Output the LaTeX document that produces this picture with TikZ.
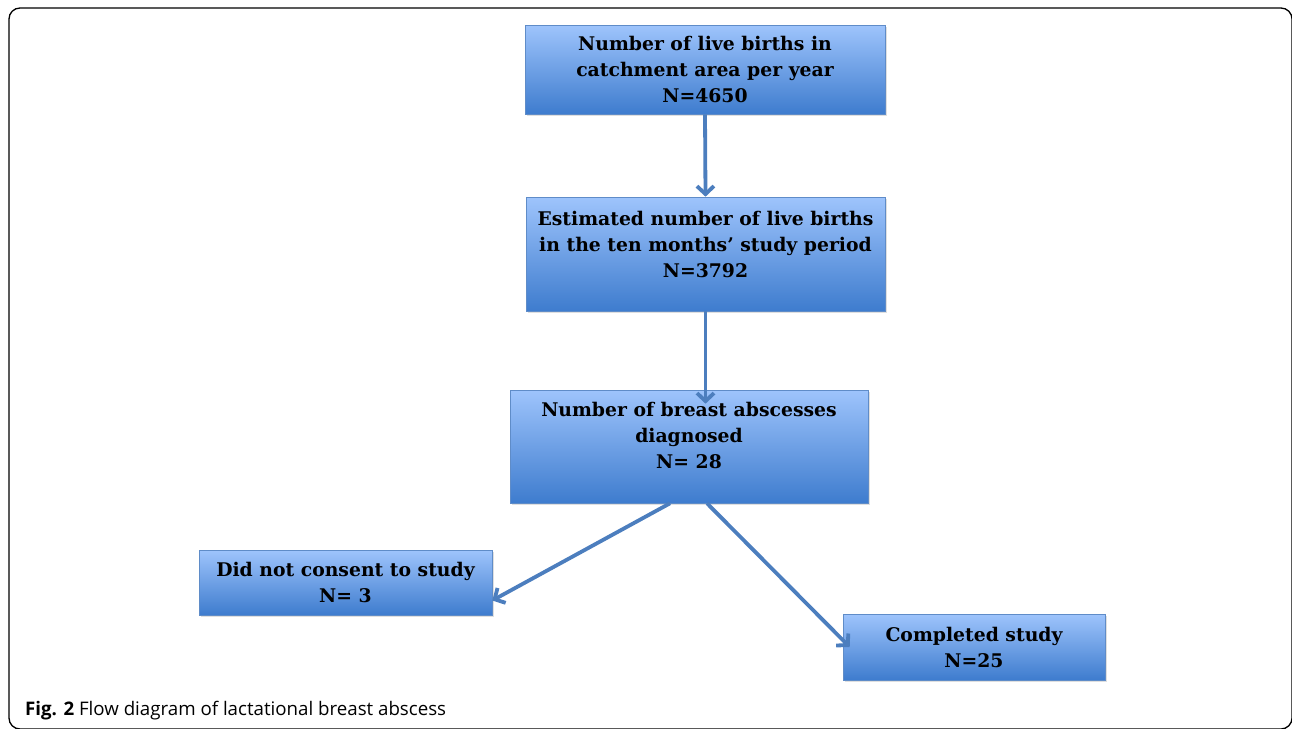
\documentclass[tikz,border=0pt]{standalone}
\usepackage{fontspec}
\setmainfont{DejaVu Serif}
\newfontfamily\capfont{Open Sans}
\usetikzlibrary{shadows}
\usetikzlibrary{positioning}
\usetikzlibrary{arrows.meta}
\usetikzlibrary{calc}

\definecolor{boxtop}{RGB}{158,196,252}
\definecolor{boxbot}{RGB}{62,124,206}
\definecolor{boxline}{RGB}{95,140,200}
\definecolor{flowarrow}{RGB}{76,126,190}

\tikzset{
  flowbox/.style={draw=boxline, line width=0.6pt, top color=boxtop, bottom color=boxbot,
    inner sep=0pt, align=center, font=\fontsize{18.8}{26}\selectfont\bfseries,
    drop shadow={shadow xshift=2pt, shadow yshift=-2pt, opacity=0.25}},
  flowline/.style={draw=flowarrow, line width=3.8pt,
    -{Straight Barb[length=8pt,width=17pt,line width=3.8pt]}}
}

\begin{document}
\begin{tikzpicture}[x=1pt,y=-1pt]
\useasboundingbox (0,0) rectangle (1292,728);

% outer frame
\begin{scope}
\clip (0,0) rectangle (1292,728);
\draw[line width=1.3pt, rounded corners=11pt] (9,8) rectangle (1292,729);
\end{scope}

% boxes
\node[flowbox, minimum width=360pt, minimum height=89pt] (births) at (705,69.5)
  {Number of live births in\\catchment area per year\\N=4650};
\node[flowbox, minimum width=359pt, minimum height=114pt] (period) at (705.5,254)
  {Estimated number of live births\\in the ten months’ study period\\N=3792\\[-6pt]\mbox{}};
\node[flowbox, minimum width=358pt, minimum height=113pt] (abscess) at (689,446.5)
  {Number of breast abscesses\\diagnosed\\N= 28\\[-4pt]\mbox{}};
\node[flowbox, minimum width=293pt, minimum height=65pt] (noconsent) at (345.5,582.5)
  {Did not consent to study\\N= 3};
\node[flowbox, minimum width=262pt, minimum height=66pt] (completed) at (974,647)
  {Completed study\\N=25};

% arrows
\draw[flowline] (births.south) -- (period.north);
\draw[flowline, shorten >=-14pt] (period.south) -- (period.south |- abscess.north);
\draw[flowline] ([xshift=-19pt]abscess.south) -- ([yshift=-18pt]noconsent.east);
\draw[flowline] ([xshift=18pt]abscess.south) -- ([xshift=7pt]completed.west);

% caption
\node[anchor=base west, inner sep=0pt, font=\capfont\fontsize{18.7}{20}\selectfont] (caption) at (25,715)
  {\textbf{Fig. 2} Flow diagram of lactational breast abscess};

\end{tikzpicture}
\end{document}
